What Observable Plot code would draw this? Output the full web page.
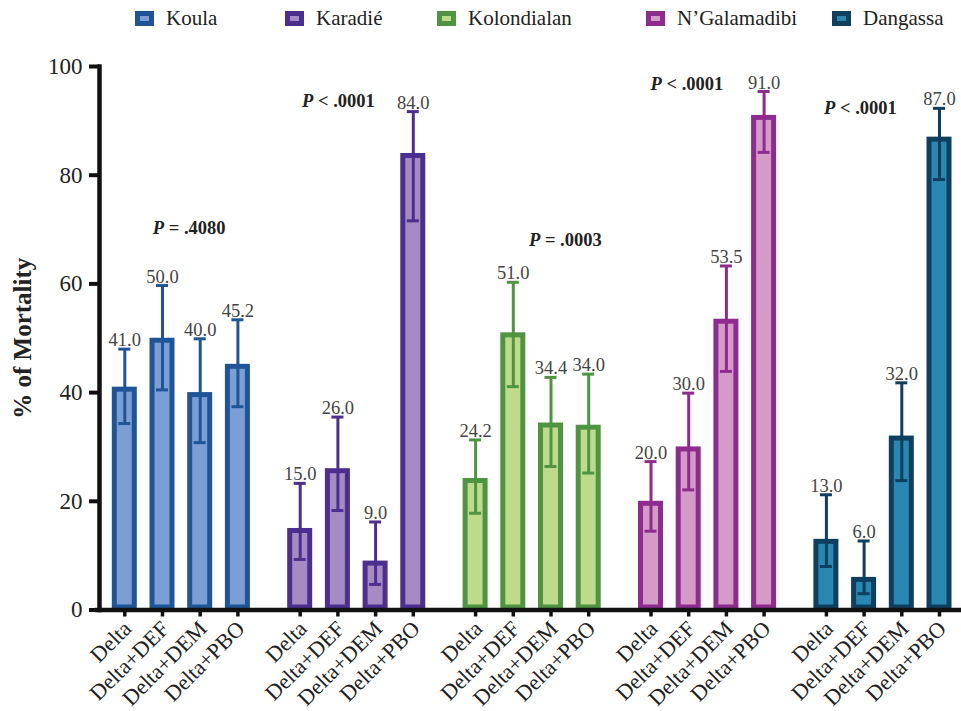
<!DOCTYPE html>
<html><head><meta charset="utf-8">
<script src="https://cdn.jsdelivr.net/npm/d3@7"></script>
<script src="https://cdn.jsdelivr.net/npm/@observablehq/plot@0.6"></script>
<style>
body{margin:0;background:#fff;font-family:"Liberation Serif",serif;}
#legend{position:relative;height:36px;width:961px;}
.item{position:absolute;top:0;height:36px;display:flex;align-items:center;font-size:21px;color:#222;white-space:nowrap;}
.sw{box-sizing:border-box;width:19px;height:15px;border:5px solid;margin-right:12px;}
#chart svg, #chart svg text, #chart svg tspan{font-family:"Liberation Serif",serif !important;}
</style></head><body>
<div id="legend"></div><div id="chart"></div>
<script>
// ---- data ----
const sites = ["Koula", "Karadié", "Kolondialan", "N’Galamadibi", "Dangassa"];
const treatments = ["Delta", "Delta+DEF", "Delta+DEM", "Delta+PBO"];
const mortality = [
  [41.0, 50.0, 40.0, 45.2],
  [15.0, 26.0, 9.0, 84.0],
  [24.2, 51.0, 34.4, 34.0],
  [20.0, 30.0, 53.5, 91.0],
  [13.0, 6.0, 32.0, 87.0]
];
const ciLow = [
  [34.3, 40.5, 30.8, 37.4],
  [9.3, 18.3, 4.7, 71.6],
  [17.8, 41.1, 26.4, 25.2],
  [14.5, 22.1, 43.9, 84.2],
  [8.0, 3.0, 23.8, 79.2]
];
const ciHigh = [
  [48.0, 59.7, 49.9, 53.4],
  [23.3, 35.5, 16.2, 91.7],
  [31.3, 60.3, 42.8, 43.4],
  [27.3, 39.9, 63.3, 95.4],
  [21.2, 12.7, 41.8, 92.3]
];
const pLabels = ["P = .4080", "P < .0001", "P = .0003", "P < .0001", "P < .0001"];
const pY = [70.3, 93.7, 68.1, 96.7, 92.3];
const yTicks = [0, 20, 40, 60, 80, 100];

// ---- styles ----
const FONT = "Liberation Serif";
const strokeColors = ["#1f5596", "#4b2e8f", "#4f9440", "#8e2b8f", "#0f3f5f"];
const fillColors = ["#7b9fd4", "#a68bc3", "#bddb8a", "#d49bc6", "#2888b2"];
const legendLeft = [135, 285, 437, 646, 832];
const pDx = [26.7, 0.5, 52, -1.8, -3.7];
const axisShift = -6.45;

// legend
const lg = document.getElementById("legend");
sites.forEach((s, i) => {
  const it = document.createElement("div");
  it.className = "item";
  it.style.left = legendLeft[i] + "px";
  const sw = document.createElement("span");
  sw.className = "sw";
  sw.style.borderColor = strokeColors[i];
  sw.style.background = fillColors[i];
  it.appendChild(sw);
  it.appendChild(document.createTextNode(s));
  lg.appendChild(it);
});

const rows = sites.flatMap((s, i) => treatments.map((t, j) => ({
  site: s, treat: t, mean: mortality[i][j], lo: ciLow[i][j], hi: ciHigh[i][j], k: i
})));
const pRows = sites.map((s, i) => ({site: s, treat: treatments[1], y: pY[i], label: pLabels[i]}));

const plot = Plot.plot({
  width: 961, height: 675,
  marginLeft: 105.45, marginRight: 3.15, marginTop: 30, marginBottom: 101.5,
  style: {fontFamily: FONT, background: "white", color: "#111"},
  fx: {domain: sites, paddingInner: 0.1403, paddingOuter: 0, round: false, axis: null, label: null},
  x: {domain: treatments, paddingInner: 0.337, paddingOuter: 0.1685, round: false, label: null},
  y: {domain: [0, 100], label: null},
  marks: [
    Plot.barY(rows, {fx: "site", x: "treat", y: "mean", inset: 2.5,
      fill: d => fillColors[d.k], stroke: d => strokeColors[d.k], strokeWidth: 5}),
    Plot.ruleX(rows, {fx: "site", x: "treat", y1: "lo", y2: "hi",
      stroke: d => strokeColors[d.k], strokeWidth: 3}),
    Plot.tickY(rows, {fx: "site", x: "treat", y: "hi", stroke: d => strokeColors[d.k],
      strokeWidth: 3, insetLeft: 6.5, insetRight: 6.5}),
    Plot.tickY(rows, {fx: "site", x: "treat", y: "lo", stroke: d => strokeColors[d.k],
      strokeWidth: 3, insetLeft: 6.5, insetRight: 6.5}),
    Plot.text(rows, {fx: "site", x: "treat", y: "hi", text: d => d.mean.toFixed(1),
      lineAnchor: "bottom", dy: -3, fontSize: 18.5, fontFamily: FONT, fill: "#444"}),
    ...pRows.map((r, i) => Plot.text([r], {fx: "site", x: "treat", y: "y", text: "label",
      dx: pDx[i], fontSize: 18.5, fontFamily: FONT, fontWeight: "bold", fill: "#222"})),
    // x ticks
    Plot.axisX({tickSize: 7, tickFormat: () => "", strokeWidth: 3.5, stroke: "#111", label: null}),
    // x tick labels
    Plot.axisX({fontSize: 22, fontFamily: FONT, tickRotate: -45, tickSize: 0, tickPadding: 15, dx: 3,
      fill: "#222", label: null}),
    Plot.axisY({ticks: yTicks, tickSize: 10, tickPadding: 7, dx: axisShift, fontFamily: FONT,
      fontSize: 23, strokeWidth: 4, stroke: "#111", fill: "#222", label: null}),
    Plot.frame({facet: "super", anchor: "left", insetLeft: axisShift, stroke: "#111", strokeWidth: 4.5, strokeLinecap: "square"}),
    Plot.frame({facet: "super", anchor: "bottom", insetLeft: -9, insetRight: -6, stroke: "#111", strokeWidth: 4.5}),
    Plot.text(["% of Mortality"], {facet: "super", frameAnchor: "left", dx: -83, rotate: -90,
      fontSize: 25, fontFamily: FONT, fontWeight: "bold", fill: "#222", textAnchor: "middle"})
  ]
});
document.getElementById("chart").appendChild(plot);

// italic P in the p-value labels
d3.select(plot).selectAll("text").each(function() {
  const t = this.textContent;
  if (/^P [=<]/.test(t) && this.children.length === 0) {
    this.textContent = "";
    d3.select(this).append("tspan").attr("font-style", "italic").text("P");
    d3.select(this).append("tspan").text(t.slice(1));
  }
});
</script>
</body></html>
